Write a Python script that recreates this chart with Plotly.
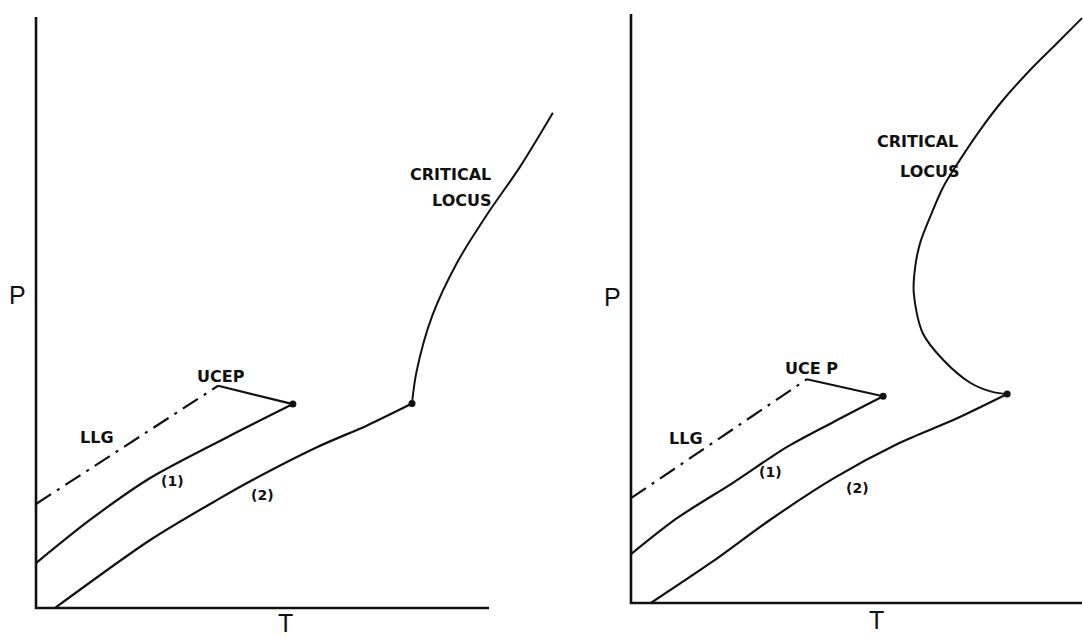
import plotly.graph_objects as go

# ---------------- data (arbitrary T, P units) ----------------
# Left panel
L_llg_T = [0.0, 4.02]
L_llg_P = [1.76, 3.76]
L_ucep_T = [4.02, 5.67]
L_ucep_P = [3.76, 3.45]
L_c1_T = [0.0, 1.19, 2.52, 4.22, 5.67]
L_c1_P = [0.76, 1.49, 2.20, 2.89, 3.45]
L_c2_T = [0.42, 2.52, 4.00, 4.79, 6.20, 7.31, 8.30]
L_c2_P = [0.0, 1.15, 1.83, 2.17, 2.72, 3.09, 3.46]
L_crit_T = [8.30, 8.40, 8.75, 9.30, 9.95, 10.68, 11.41]
L_crit_P = [3.46, 4.00, 4.95, 5.85, 6.65, 7.46, 8.38]
L_dots_T = [5.67, 8.30]
L_dots_P = [3.45, 3.46]

# Right panel
R_llg_T = [0.0, 3.90]
R_llg_P = [1.78, 3.80]
R_ucep_T = [3.90, 5.59]
R_ucep_P = [3.80, 3.51]
R_c1_T = [0.0, 1.02, 2.26, 3.46, 4.48, 5.59]
R_c1_P = [0.83, 1.44, 2.04, 2.65, 3.07, 3.51]
R_c2_T = [0.44, 1.82, 3.08, 4.50, 5.96, 7.18, 8.34]
R_c2_P = [0.0, 0.71, 1.41, 2.12, 2.72, 3.12, 3.55]
R_crit_T = [8.34, 8.03, 7.52, 6.92, 6.47, 6.27, 6.30, 6.41, 6.63, 6.92, 7.29, 7.74, 8.25, 8.85, 9.40, 10.0]
R_crit_P = [3.55, 3.58, 3.74, 4.13, 4.58, 5.26, 5.70, 6.11, 6.55, 7.06, 7.52, 8.03, 8.54, 9.05, 9.47, 9.93]
R_dots_T = [5.59, 8.34]
R_dots_P = [3.51, 3.55]

# axis extents (data units)
AX_T = [0.0, 0.0, 10.0]
AX_P = [10.0, 0.0, 0.0]

# labels: (text, T, P)
L_labels = [("CRITICAL", 9.16, 7.33), ("LOCUS", 9.40, 6.89), ("UCEP", 4.08, 3.91),
            ("LLG", 1.35, 2.89), ("(1)", 3.02, 2.15), ("(2)", 5.01, 1.91)]
R_labels = [("CRITICAL", 6.36, 7.84), ("LOCUS", 6.61, 7.32), ("UCE P", 4.01, 3.99),
            ("LLG", 1.22, 2.80), ("(1)", 3.10, 2.22), ("(2)", 5.03, 1.95)]
L_axis_titles = [("P", -0.40, 5.30), ("T", 5.50, -0.25)]
R_axis_titles = [("P", -0.42, 5.20), ("T", 5.45, -0.29)]

INK = "#111111"
fig = go.Figure()


def add_panel(xa, ya, ax_T, ax_P, llg, ucep, c1, c2, crit, dots):
    kw = dict(xaxis=xa, yaxis=ya, mode="lines", showlegend=False, hoverinfo="skip")
    fig.add_trace(go.Scatter(x=ax_T, y=ax_P, line=dict(color=INK, width=2.6), **kw))
    fig.add_trace(go.Scatter(x=llg[0], y=llg[1],
                             line=dict(color=INK, width=2.2, dash="18px,7px,3px,7px"), **kw))
    fig.add_trace(go.Scatter(x=ucep[0], y=ucep[1], line=dict(color=INK, width=2.2), **kw))
    fig.add_trace(go.Scatter(x=c1[0], y=c1[1],
                             line=dict(color=INK, width=2.2, shape="spline", smoothing=0.8), **kw))
    fig.add_trace(go.Scatter(x=c2[0], y=c2[1],
                             line=dict(color=INK, width=2.2, shape="spline", smoothing=0.8), **kw))
    fig.add_trace(go.Scatter(x=crit[0], y=crit[1],
                             line=dict(color=INK, width=2.0, shape="spline", smoothing=0.9), **kw))
    fig.add_trace(go.Scatter(x=dots[0], y=dots[1], mode="markers", xaxis=xa, yaxis=ya,
                             marker=dict(color=INK, size=7), showlegend=False, hoverinfo="skip"))


add_panel("x", "y", AX_T, AX_P, (L_llg_T, L_llg_P), (L_ucep_T, L_ucep_P),
          (L_c1_T, L_c1_P), (L_c2_T, L_c2_P), (L_crit_T, L_crit_P), (L_dots_T, L_dots_P))
add_panel("x2", "y2", AX_T, AX_P, (R_llg_T, R_llg_P), (R_ucep_T, R_ucep_P),
          (R_c1_T, R_c1_P), (R_c2_T, R_c2_P), (R_crit_T, R_crit_P), (R_dots_T, R_dots_P))

annotations = []
for labels, xr, yr in ((L_labels, "x", "y"), (R_labels, "x2", "y2")):
    for text, t, p in labels:
        size = 14 if text.startswith("(") else 16
        annotations.append(dict(text=text, x=t, y=p, xref=xr, yref=yr, showarrow=False,
                                font=dict(family="DejaVu Sans", size=size, color=INK, weight="bold")))
for labels, xr, yr in ((L_axis_titles, "x", "y"), (R_axis_titles, "x2", "y2")):
    for text, t, p in labels:
        annotations.append(dict(text=text, x=t, y=p, xref=xr, yref=yr, showarrow=False,
                                font=dict(family="Liberation Sans", size=25, color=INK)))

hidden = dict(visible=False, showgrid=False, zeroline=False, fixedrange=True)
fig.update_layout(
    width=1083, height=637,
    margin=dict(l=0, r=0, t=0, b=0),
    paper_bgcolor="white", plot_bgcolor="white",
    xaxis=dict(domain=[0, 560 / 1083], range=[-0.795, 11.567], **hidden),
    yaxis=dict(domain=[0, 1], range=[-0.491, 10.288], **hidden),
    xaxis2=dict(domain=[560 / 1083, 1], range=[-1.574, 10.022], **hidden),
    yaxis2=dict(domain=[0, 1], range=[-0.577, 10.238], anchor="x2", **hidden),
    annotations=annotations,
)

fig.write_html(
    "out.html",
    config={"displayModeBar": False, "staticPlot": True},
    post_script="document.body.style.margin='0';document.body.style.overflow='hidden';",
)
